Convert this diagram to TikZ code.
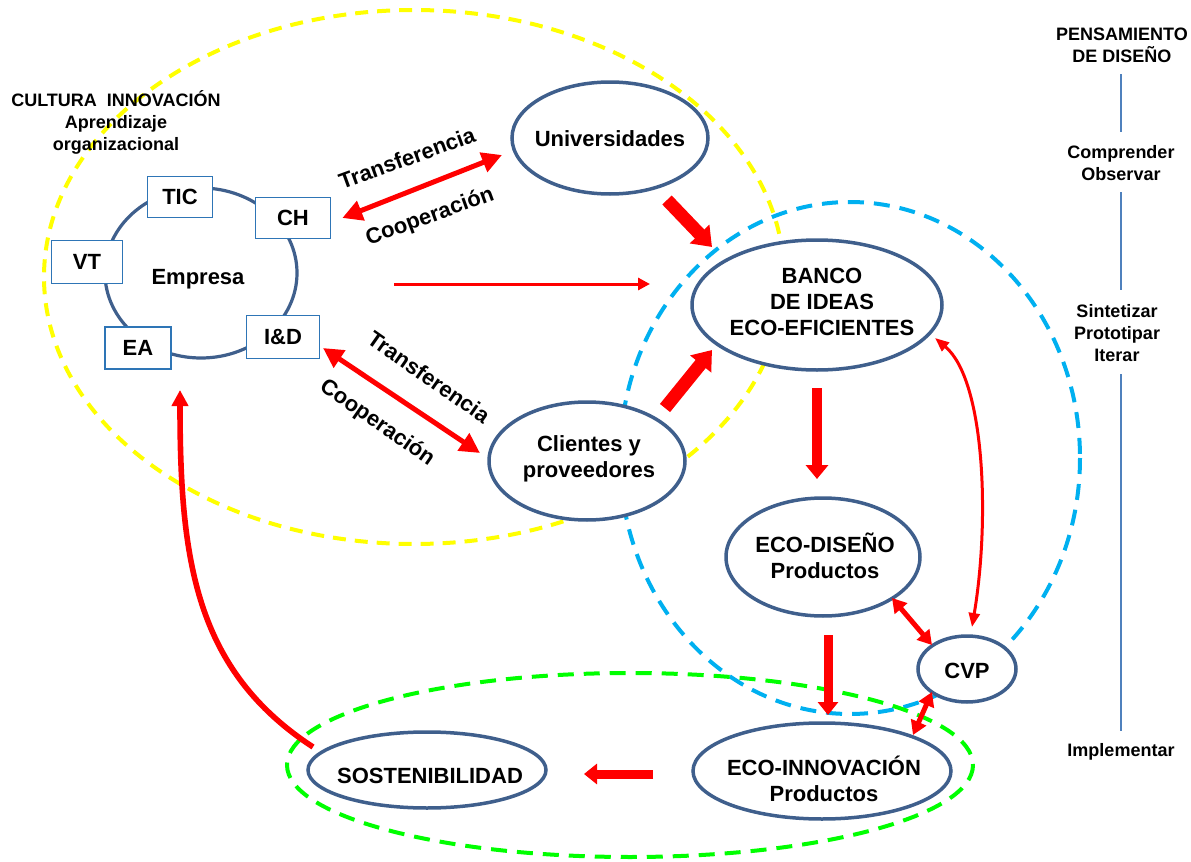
\documentclass[tikz,border=0pt]{standalone}
\usepackage{fontspec}
\setmainfont{Liberation Sans}
\usetikzlibrary{arrows.meta,calc,shapes.geometric}

\definecolor{ellblue}{HTML}{3F5F8C}
\definecolor{boxblue}{HTML}{2E75B6}
\definecolor{skyblue}{HTML}{00B0F0}
\definecolor{grn}{HTML}{00FF00}
\definecolor{ylw}{HTML}{FFFF00}
\definecolor{colline}{HTML}{4F81BD}

\begin{document}
\begin{tikzpicture}[x=0.5pt,y=-0.5pt,
  font=\fontsize{11}{13}\selectfont\bfseries,
  oval/.style={ellipse, draw=ellblue, line width=1.75pt, fill=white, inner sep=0pt},
  tag/.style={draw=boxblue, line width=0.8pt, fill=white, inner sep=0pt},
  txt/.style={align=center, inner sep=0pt},
  small/.style={align=center, inner sep=0pt, font=\fontsize{9}{11}\selectfont\bfseries},
  thinarrow/.style={draw=red, line width=1.5pt, -{Triangle[length=6pt,width=6pt]}},
  dblarrow/.style={draw=red, line width=2.5pt, {Triangle[length=10pt,width=10pt]}-{Triangle[length=10pt,width=10pt]}},
  dblshort/.style={draw=red, line width=2.5pt, {Triangle[length=7pt,width=8pt]}-{Triangle[length=7pt,width=8pt]}},
  dblthin/.style={draw=red, line width=1.5pt, {Triangle[length=7pt,width=5.5pt]}-{Triangle[length=7pt,width=5.5pt]}},
  fatarrow/.style={draw=red, line width=6.5pt, -{Triangle[length=9pt,width=13pt]}},
  midarrow/.style={draw=red, line width=5pt, -{Triangle[length=7pt,width=11pt]}},
  slimarrow/.style={draw=red, line width=4.5pt, -{Triangle[length=6.5pt,width=10pt]}},
  curvearrow/.style={draw=red, line width=2.8pt, -{Triangle[length=8pt,width=8pt]}},
  pline/.style={draw=colline, line width=1pt}]

\useasboundingbox (0,0) rectangle (1191,862);

% grouping outlines
\draw[ylw, line width=2pt, dash pattern=on 6.5pt off 4.5pt] (414,277) ellipse [x radius=370, y radius=267];
\draw[skyblue, line width=2pt, dash pattern=on 8pt off 5pt] (850,458) ellipse [x radius=230, y radius=256];
\draw[grn, line width=2pt, dash pattern=on 8pt off 5pt] (630,765) ellipse [x radius=343, y radius=92];

% company ring with its capabilities
\node[oval, line width=1.6pt, fill=none, minimum width=96pt, minimum height=85pt] (emp) at (201,273) {};
\node[txt] (empt) at (198,279) {Empresa};
\node[tag, minimum width=32.5pt, minimum height=20.5pt] (tic) at (180,197) {TIC};
\node[tag, minimum width=37.5pt, minimum height=20.5pt] (ch) at (293,218) {CH};
\node[tag, minimum width=35.5pt, minimum height=21.5pt] (vt) at (87,262) {VT};
\node[tag, minimum width=33pt, minimum height=21pt] (ea) at (138,348) {EA};
\node[tag, minimum width=36.5pt, minimum height=21.5pt] (id) at (283,337) {I\&D};

\node[small] (cult) at (116,122) {CULTURA\ \ INNOVACIÓN\\Aprendizaje\\organizacional};

% main ovals
\node[oval, minimum width=98pt, minimum height=56pt] (univ) at (610,138) {};
\node[txt] (univt) at (610,139) {Universidades};
\node[oval, minimum width=125pt, minimum height=65pt] (banco) at (817,305) {};
\node[txt] (bancot) at (822,302) {BANCO\\DE IDEAS\\ECO-EFICIENTES};
\node[oval, minimum width=98pt, minimum height=59pt] (cli) at (587,461) {};
\node[txt] (clit) at (589,459) {Clientes y\\proveedores};
\node[oval, minimum width=97pt, minimum height=59pt] (ecod) at (823,557) {};
\node[txt] (ecodt) at (825,556) {ECO-DISEÑO\\Productos};
\node[oval, minimum width=49pt, minimum height=33pt] (cvp) at (967,669) {};
\node[txt] (cvpt) at (967,671) {CVP};
\node[oval, minimum width=129pt, minimum height=48pt] (ecoi) at (822,771) {};
\node[txt] (ecoit) at (824,779) {ECO-INNOVACIÓN\\Productos};
\node[oval, minimum width=119pt, minimum height=38pt] (sost) at (427,770) {};
\node[txt] (sostt) at (430,776) {SOSTENIBILIDAD};

% exchanges with universities and partners
\draw[dblarrow] ($(ch.east)+(11,0)$) -- ($(univ.center)+(-108,17)$);
\node[txt, rotate=20] (tr1) at (407,158) {Transferencia};
\node[txt, rotate=20] (co1) at (430,217) {Cooperación};
\draw[dblarrow] ($(id.center)+(40,11)$) -- ($(cli.center)+(-107,-8)$);
\node[txt, rotate=-35] (tr2) at (429,377) {Transferencia};
\node[txt, rotate=-35] (co2) at (377,423) {Cooperación};

% flows into the idea bank
\draw[thinarrow] ($(emp.center)+(193,11)$) -- ($(banco.center)+(-167,-21)$);
\draw[fatarrow] ($(univ.center)+(57,62)$) -- ($(banco.center)+(-105,-58)$);
\draw[fatarrow] ($(cli.center)+(78,-53)$) -- ($(banco.center)+(-105,45)$);

% design chain
\draw[midarrow] ($(banco.center)+(0,83)$) -- ($(ecod.center)+(-6,-78)$);
\draw[slimarrow] ($(ecod.center)+(5,78)$) -- ($(ecoi.center)+(6,-56)$);
\draw[slimarrow] ($(ecoi.center)+(-169,3)$) -- ($(sost.center)+(157,4)$);
\draw[dblshort] ($(ecod.center)+(69,41)$) -- ($(cvp.center)+(-35,-24)$);
\draw[dblshort] ($(cvp.center)+(-35,23)$) -- ($(ecoi.center)+(91,-36)$);
\draw[dblthin] ($(banco.center)+(118,33)$) .. controls (985,380) and (990,520) .. ($(cvp.center)+(5,-42)$);

% feedback to the company
\draw[curvearrow] ($(sost.center)+(-114,-23)$) .. controls (195,670) and (180,560) .. ($(ea.center)+(42,42)$);

% design thinking scale
\node[small] (pd) at (1122,45) {PENSAMIENTO\\DE DISEÑO};
\node[small] (co) at (1121,163) {Comprender\\Observar};
\node[small] (si) at (1117,333) {Sintetizar\\Prototipar\\Iterar};
\node[small] (im) at (1121,752) {Implementar};
\draw[pline] ($(pd.center)+(-1,29)$) -- ($(co.center)+(0,-31)$);
\draw[pline] ($(co.center)+(0,29)$) -- ($(si.center)+(4,-43)$);
\draw[pline] ($(si.center)+(4,41)$) -- ($(im.center)+(0,-21)$);
\end{tikzpicture}
\end{document}
